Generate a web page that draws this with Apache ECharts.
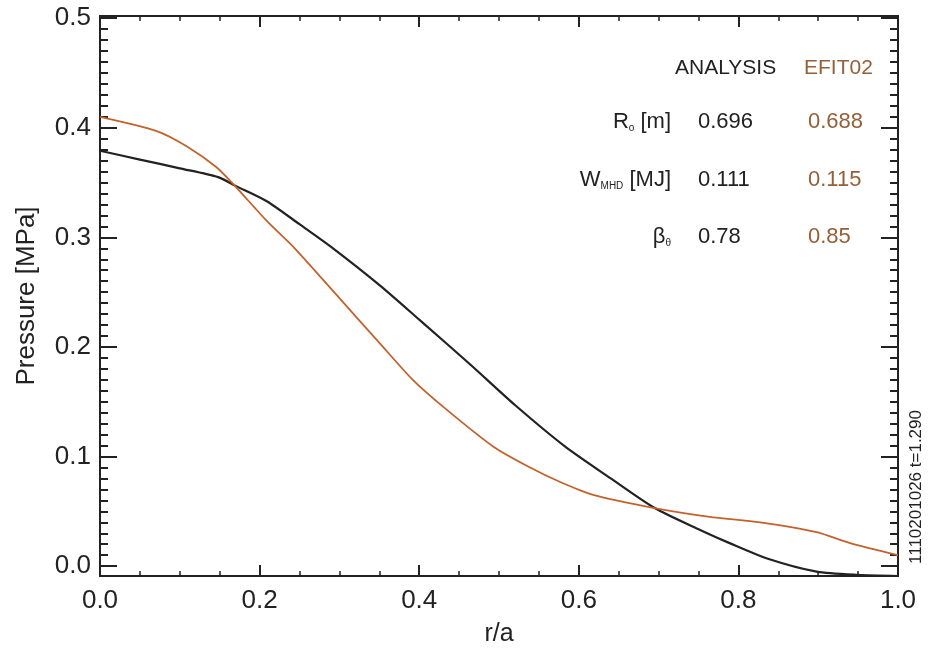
<!DOCTYPE html>
<html>
<head>
<meta charset="utf-8">
<script src="https://cdn.jsdelivr.net/npm/echarts@6/dist/echarts.min.js"></script>
<style>
html,body{margin:0;padding:0;background:#fff;}
#chart{width:928px;height:652px;}
</style>
</head>
<body>
<div id="chart"></div>
<script>
// ---- data ----
var analysisR = [0, 0.05, 0.10, 0.148, 0.17, 0.209, 0.25, 0.292, 0.351, 0.40, 0.464, 0.52, 0.583, 0.64, 0.695, 0.752, 0.789, 0.836, 0.898, 0.95, 1.0];
var analysisP = [0.379, 0.371, 0.363, 0.355, 0.347, 0.333, 0.312, 0.290, 0.256, 0.225, 0.184, 0.147, 0.109, 0.080, 0.053, 0.033, 0.021, 0.007, -0.005, -0.008, -0.009];
var efitR = [0, 0.071, 0.109, 0.146, 0.169, 0.209, 0.244, 0.297, 0.351, 0.392, 0.434, 0.493, 0.539, 0.576, 0.618, 0.695, 0.764, 0.827, 0.898, 0.94, 1.0];
var efitP = [0.410, 0.397, 0.383, 0.364, 0.347, 0.315, 0.290, 0.247, 0.203, 0.170, 0.143, 0.109, 0.090, 0.077, 0.065, 0.053, 0.045, 0.040, 0.031, 0.021, 0.010];

var yMajorTicks = [0.0, 0.1, 0.2, 0.3, 0.4, 0.5];
var xMajorTicks = [0.0, 0.2, 0.4, 0.6, 0.8, 1.0];

var tableHeader = ['ANALYSIS', 'EFIT02'];
var rowLabels = ['{n|R}{s|o}{n| [m]}', '{n|W}{s|MHD}{n| [MJ]}', '{n|β}{s|θ}'];
var analysisValues = ['0.696', '0.111', '0.78'];
var efitValues = ['0.688', '0.115', '0.85'];
var footnote = '1110201026 t=1.290';

// ---- build ----
var BLACK = '#222222';
var BROWN_LINE = '#c2632e';
var BROWN_TEXT = '#94603a';
var FONT = 'Liberation Sans, Arial, Helvetica, sans-serif';

function pairs(xs, ys){ return xs.map(function(x,i){ return [x, ys[i]]; }); }

var yMinor = [];
for (var k = 0; k <= 50; k++) { if (k % 10 !== 0) yMinor.push(k / 100); }

var yMin = -0.009, yMax = 0.502;

function yAxisDef(pos, values, len, withLabel) {
  return {
    type: 'value', position: pos, min: yMin, max: yMax,
    axisLine: {show: true, onZero: false, lineStyle: {color: BLACK, width: 2}},
    axisTick: {show: true, inside: true, length: len, customValues: values, lineStyle: {color: BLACK, width: 2}},
    axisLabel: withLabel ? {show: true, customValues: yMajorTicks, fontSize: 26, color: BLACK, fontFamily: FONT, margin: 9,
      formatter: function(v){ return v.toFixed(1); }} : {show: false},
    splitLine: {show: false},
    name: withLabel ? 'Pressure [MPa]' : '',
    nameLocation: 'middle', nameGap: 60, nameRotate: 90,
    nameTextStyle: {fontSize: 26, color: BLACK, fontFamily: FONT}
  };
}

function xAxisDef(pos, withLabel) {
  return {
    type: 'value', position: pos, min: 0, max: 1, interval: 0.2,
    axisLine: {show: true, onZero: false, lineStyle: {color: BLACK, width: 2}},
    axisTick: {show: true, inside: true, length: 11, lineStyle: {color: BLACK, width: 2}},
    minorTick: {show: true, splitNumber: 4, length: 5, lineStyle: {color: BLACK, width: 1.5}},
    axisLabel: withLabel ? {show: true, fontSize: 26, color: BLACK, fontFamily: FONT, margin: 12,
      formatter: function(v){ return v.toFixed(1); }} : {show: false},
    splitLine: {show: false}, minorSplitLine: {show: false},
    name: withLabel ? 'r/a' : '',
    nameLocation: 'middle', nameGap: 46,
    nameTextStyle: {fontSize: 25, color: BLACK, fontFamily: FONT}
  };
}

var graphics = [];
var colA = 698, colE = 808, labelRight = 671;
var rowY = [122, 180, 237];
graphics.push({type: 'text', left: 675, top: 58, style: {text: tableHeader[0], fontSize: 21, fill: BLACK, fontFamily: FONT}});
graphics.push({type: 'text', left: 804, top: 58, style: {text: tableHeader[1], fontSize: 21, fill: BROWN_TEXT, fontFamily: FONT}});
for (var i = 0; i < rowLabels.length; i++) {
  graphics.push({type: 'text', x: labelRight, y: rowY[i], style: {
    text: rowLabels[i], align: 'right', verticalAlign: 'middle', fontFamily: FONT,
    rich: {n: {fontSize: 22, fill: BLACK, fontFamily: FONT, verticalAlign: 'bottom'},
           s: {fontSize: 10, fill: BLACK, fontFamily: FONT, verticalAlign: 'bottom'}}
  }});
  graphics.push({type: 'text', x: colA, y: rowY[i], style: {text: analysisValues[i], fontSize: 22, fill: BLACK, fontFamily: FONT, verticalAlign: 'middle'}});
  graphics.push({type: 'text', x: colE, y: rowY[i], style: {text: efitValues[i], fontSize: 22, fill: BROWN_TEXT, fontFamily: FONT, verticalAlign: 'middle'}});
}
graphics.push({type: 'text', x: 916, y: 487, rotation: Math.PI / 2, style: {
  text: footnote, fontSize: 17, fill: BLACK, fontFamily: FONT, align: 'center', verticalAlign: 'middle'}});

var option = {
  animation: false,
  backgroundColor: '#ffffff',
  grid: {left: 100, right: 30, top: 16, bottom: 71, containLabel: false},
  xAxis: [xAxisDef('bottom', true), xAxisDef('top', false)],
  yAxis: [
    yAxisDef('left', yMajorTicks, 17, true),
    yAxisDef('left', yMinor, 8, false),
    yAxisDef('right', yMajorTicks, 17, false),
    yAxisDef('right', yMinor, 8, false)
  ],
  series: [
    {name: 'ANALYSIS', type: 'line', xAxisIndex: 0, yAxisIndex: 0, data: pairs(analysisR, analysisP),
     showSymbol: false, smooth: 0.25, clip: true,
     lineStyle: {color: BLACK, width: 2.2}, z: 3},
    {name: 'EFIT02', type: 'line', xAxisIndex: 0, yAxisIndex: 0, data: pairs(efitR, efitP),
     showSymbol: false, smooth: 0.25, clip: true,
     lineStyle: {color: BROWN_LINE, width: 1.8}, z: 4}
  ],
  graphic: graphics
};

var chart = echarts.init(document.getElementById('chart'), null, {renderer: 'canvas'});
chart.setOption(option);
</script>
</body>
</html>
